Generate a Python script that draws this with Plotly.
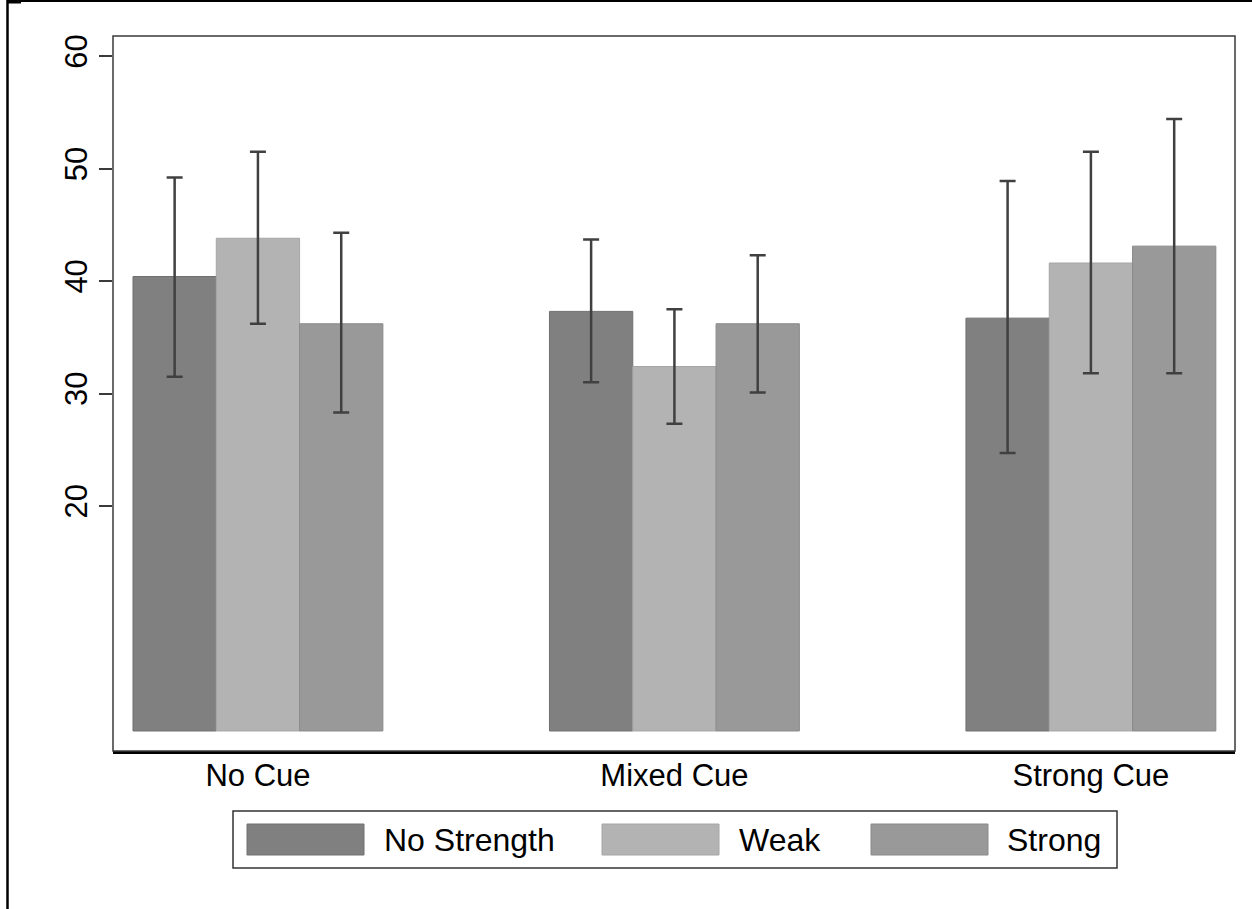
import plotly.graph_objects as go

categories = ["No Cue", "Mixed Cue", "Strong Cue"]
series_names = ["No Strength", "Weak", "Strong"]

means_no_strength = [40.4, 37.3, 36.7]
upper_no_strength = [49.2, 43.7, 48.9]
lower_no_strength = [31.5, 31.0, 24.7]

means_weak = [43.8, 32.4, 41.6]
upper_weak = [51.5, 37.5, 51.5]
lower_weak = [36.2, 27.3, 31.8]

means_strong = [36.2, 36.2, 43.1]
upper_strong = [44.3, 42.3, 54.4]
lower_strong = [28.3, 30.1, 31.8]

y_ticks = [20, 30, 40, 50, 60]

fill_colors = ["#808080", "#b3b3b3", "#999999"]
edge_colors = ["#707070", "#a6a6a6", "#8a8a8a"]
FONT = "Liberation Sans, Arial, sans-serif"

series = [
    (means_no_strength, upper_no_strength, lower_no_strength),
    (means_weak, upper_weak, lower_weak),
    (means_strong, upper_strong, lower_strong),
]

fig = go.Figure()
for i, (m, up, lo) in enumerate(series):
    fig.add_trace(go.Bar(
        x=categories, y=m, name=series_names[i],
        marker=dict(color=fill_colors[i], line=dict(color=edge_colors[i], width=1)),
        error_y=dict(type="data", symmetric=False,
                     array=[u - v for u, v in zip(up, m)],
                     arrayminus=[v - l for v, l in zip(m, lo)],
                     color="#404040", thickness=2.5, width=8),
        showlegend=False,
    ))

# plot area in pixels: x 113..1235, y 36..751
L, R, T, B = 113, 1235, 36, 751
W, H = R - L, B - T
def px(x):
    return (x - L) / W
def py(y):
    return (B - y) / H

shapes = []
annotations = []
# frame (left/top/right)
shapes.append(dict(type="rect", xref="paper", yref="paper", x0=0, x1=1, y0=0, y1=1,
                   line=dict(color="#3a3a3a", width=1.5), layer="above"))
# legend box
shapes.append(dict(type="rect", xref="paper", yref="paper",
                   x0=px(233), x1=px(1117), y0=py(868), y1=py(811),
                   line=dict(color="#333333", width=1.5), fillcolor="white"))
key_x = [247, 602, 871]
label_x = [384, 739, 1007]
for i, name in enumerate(series_names):
    shapes.append(dict(type="rect", xref="paper", yref="paper",
                       x0=px(key_x[i]), x1=px(key_x[i] + 117), y0=py(855), y1=py(824),
                       fillcolor=fill_colors[i], line=dict(color=edge_colors[i], width=1)))
    annotations.append(dict(xref="paper", yref="paper", x=px(label_x[i] - 2), y=py(840),
                            xanchor="left", yanchor="middle", text=name, showarrow=False,
                            font=dict(family=FONT, size=32, color="black")))
# outer image frame lines
shapes.append(dict(type="line", xref="paper", yref="paper", x0=px(7), x1=px(1252),
                   y0=py(1), y1=py(1), line=dict(color="black", width=2)))
shapes.append(dict(type="line", xref="paper", yref="paper", x0=px(7.5), x1=px(7.5),
                   y0=py(0), y1=py(909), line=dict(color="black", width=2.5)))
shapes.append(dict(type="line", xref="paper", yref="paper", x0=px(7), x1=px(21),
                   y0=py(2), y1=py(2), line=dict(color="black", width=3)))

fig.update_layout(
    width=1252, height=909,
    margin=dict(l=L, r=1252 - R, t=T, b=909 - B),
    paper_bgcolor="white", plot_bgcolor="white",
    barmode="group", bargap=0.4, bargroupgap=0,
    font=dict(family=FONT, size=31, color="black"),
    shapes=shapes, annotations=annotations,
    xaxis=dict(range=[-0.348, 2.346], showline=True, linecolor="black", linewidth=2.5,
               ticks="", showgrid=False, zeroline=False, ticklabelstandoff=-5,
               tickfont=dict(family=FONT, size=31, color="black")),
    yaxis=dict(range=[-1.78, 61.78], tickvals=y_ticks, ticks="outside", ticklen=13,
               tickwidth=1.5, tickcolor="#3a3a3a", tickangle=-90, showgrid=False,
               zeroline=False, showline=False,
               tickfont=dict(family=FONT, size=31, color="black")),
)

fig.write_html("out.html", config={"displayModeBar": False},
               post_script="document.body.style.margin='0';document.body.style.overflow='hidden';")
